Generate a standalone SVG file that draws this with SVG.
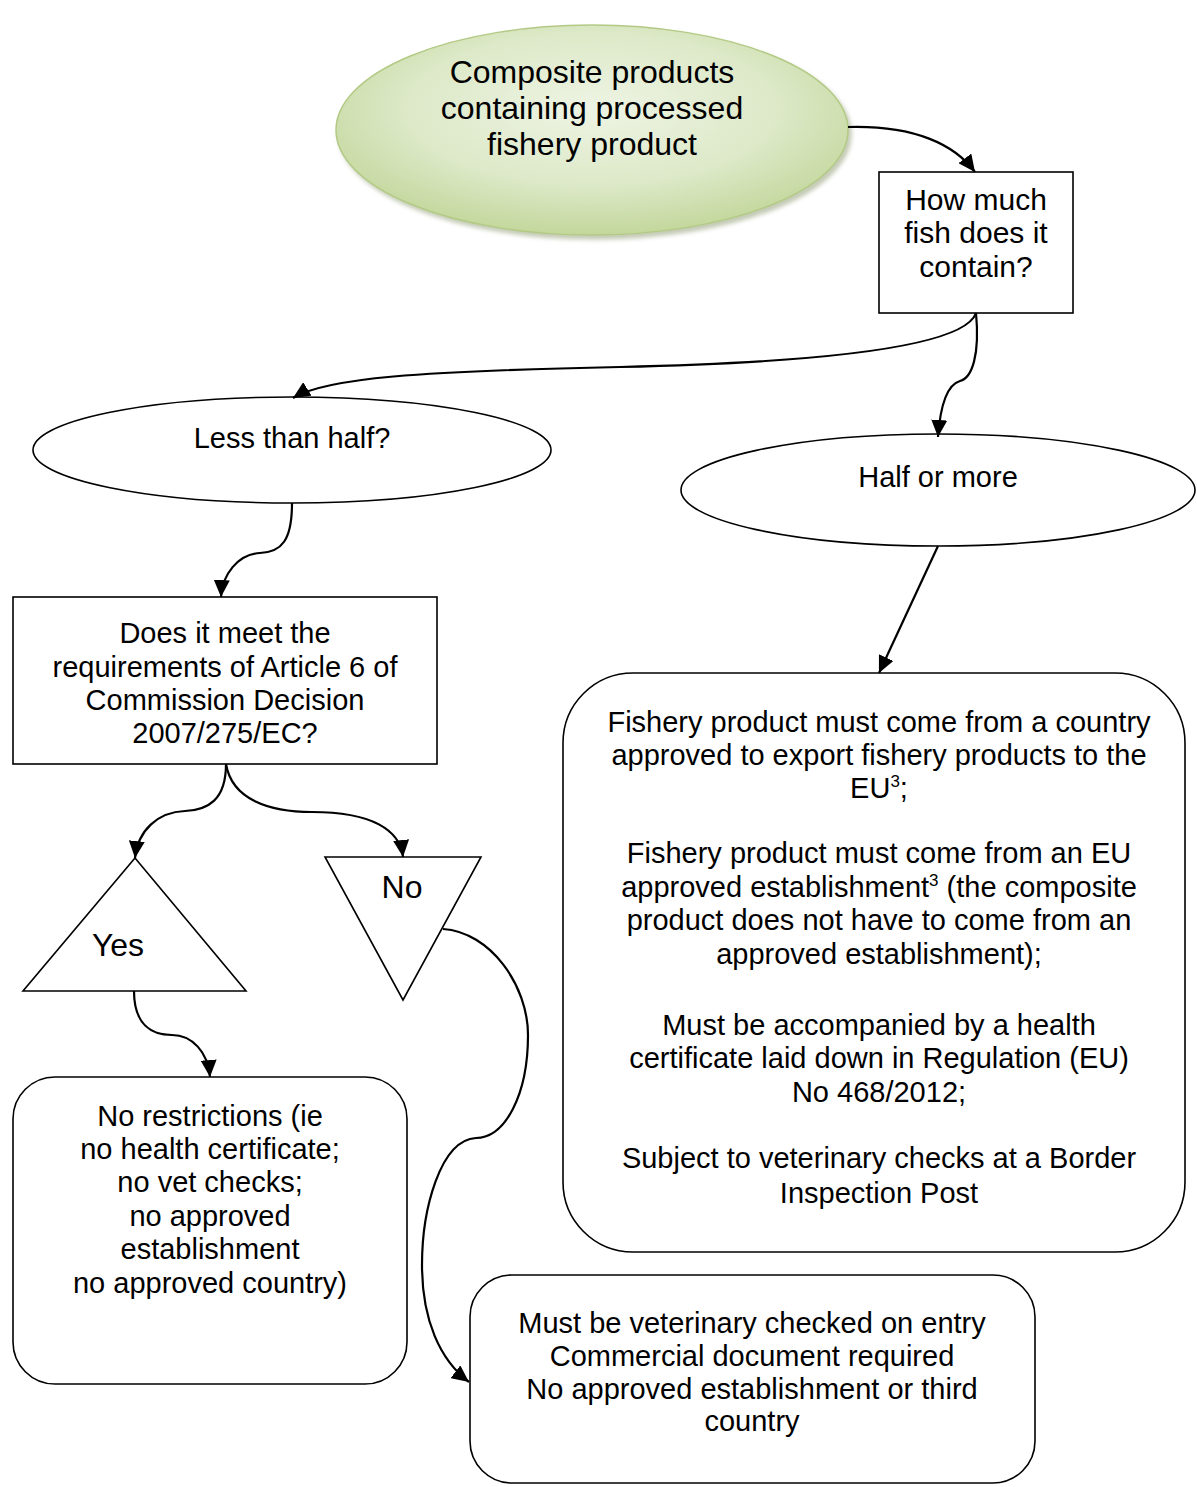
<svg xmlns="http://www.w3.org/2000/svg" width="1197" height="1487" viewBox="0 0 1197 1487">
<style>
text{font-family:"Liberation Sans",Arial,sans-serif;font-size:29px;fill:#000;text-anchor:middle}
.shape{fill:#fff;stroke:#000;stroke-width:1.6}
.conn path{fill:none;stroke:#000;stroke-width:2.2}
.sup{font-size:17px}
.big{font-size:32px}
.mid{font-size:30px}
.tri{font-size:32px}
</style>
<defs>
<radialGradient id="green" cx="50%" cy="40%" r="60%">
<stop offset="0" stop-color="#eef4e4"/>
<stop offset="0.6" stop-color="#dde9c8"/>
<stop offset="1" stop-color="#c3d79c"/>
</radialGradient>
<filter id="shadow" x="-10%" y="-10%" width="125%" height="130%">
<feDropShadow dx="3" dy="4" stdDeviation="2" flood-color="#7a8a5a" flood-opacity="0.45"/>
</filter>
<marker id="arr" markerUnits="userSpaceOnUse" markerWidth="18" markerHeight="16" refX="17" refY="8" orient="auto">
<path d="M0,0 L17,8 L0,16 z" fill="#000"/>
</marker>
</defs>
<rect width="1197" height="1487" fill="#fff"/>

<g id="start">
<ellipse cx="592" cy="130" rx="256" ry="105" fill="url(#green)" stroke="#b3ca85" stroke-width="1.5" filter="url(#shadow)"/>
<text class="big" x="592" y="83">Composite products</text>
<text class="big" x="592" y="119">containing processed</text>
<text class="big" x="592" y="155">fishery product</text>
</g>

<g id="how-much">
<rect class="shape" x="879" y="172" width="194" height="141"/>
<text class="mid" x="976" y="210">How much</text>
<text class="mid" x="976" y="243">fish does it</text>
<text class="mid" x="976" y="277">contain?</text>
</g>

<g id="less-than-half">
<ellipse class="shape" cx="292" cy="450" rx="259" ry="53"/>
<text x="292" y="448">Less than half?</text>
</g>

<g id="half-or-more">
<ellipse class="shape" cx="938" cy="490" rx="257" ry="56"/>
<text x="938" y="487">Half or more</text>
</g>

<g id="article6">
<rect class="shape" x="13" y="597" width="424" height="167"/>
<text x="225" y="643">Does it meet the</text>
<text x="225" y="677">requirements of Article 6 of</text>
<text x="225" y="710">Commission Decision</text>
<text x="225" y="743">2007/275/EC?</text>
</g>

<g id="yes">
<polygon class="shape" points="135,858 246,991 23,991"/>
<text class="tri" x="118" y="956">Yes</text>
</g>

<g id="no">
<polygon class="shape" points="325,857 481,857 403,1000"/>
<text class="tri" x="402" y="898">No</text>
</g>

<g id="requirements">
<rect class="shape" x="563" y="673" width="622" height="579" rx="70" ry="70"/>
<text x="879" y="732">Fishery product must come from a country</text>
<text x="879" y="765">approved to export fishery products to the</text>
<text x="879" y="798">EU<tspan class="sup" dy="-11">3</tspan><tspan dy="11">;</tspan></text>
<text x="879" y="863">Fishery product must come from an EU</text>
<text x="879" y="897">approved establishment<tspan class="sup" dy="-11">3</tspan><tspan dy="11"> (the composite</tspan></text>
<text x="879" y="930">product does not have to come from an</text>
<text x="879" y="964">approved establishment);</text>
<text x="879" y="1035">Must be accompanied by a health</text>
<text x="879" y="1068">certificate laid down in Regulation (EU)</text>
<text x="879" y="1102">No 468/2012;</text>
<text x="879" y="1168">Subject to veterinary checks at a Border</text>
<text x="879" y="1203">Inspection Post</text>
</g>

<g id="no-restrictions">
<rect class="shape" x="13" y="1077" width="394" height="307" rx="42" ry="42"/>
<text x="210" y="1126">No restrictions (ie</text>
<text x="210" y="1159">no health certificate;</text>
<text x="210" y="1192">no vet checks;</text>
<text x="210" y="1226">no approved</text>
<text x="210" y="1259">establishment</text>
<text x="210" y="1293">no approved country)</text>
</g>

<g id="vet-checked">
<rect class="shape" x="470" y="1275" width="565" height="208" rx="42" ry="42"/>
<text x="752" y="1333">Must be veterinary checked on entry</text>
<text x="752" y="1366">Commercial document required</text>
<text x="752" y="1399">No approved establishment or third</text>
<text x="752" y="1431">country</text>
</g>

<g id="connectors" class="conn">
<path d="M848,127 C915,125 955,145 975,172" marker-end="url(#arr)"/>
<path d="M976,313 C965,345 840,362 620,367 C420,371 325,378 293,398" marker-end="url(#arr)"/>
<path d="M976,313 C980,355 972,378 960,381 C946,385 940,410 938,437" marker-end="url(#arr)"/>
<path d="M292,503 C292,540 282,552 260,553 C238,554 222,575 221,597" marker-end="url(#arr)"/>
<path d="M938,546 L879,673" marker-end="url(#arr)"/>
<path d="M226,764 C226,800 208,810 185,811 C158,812 138,830 135,858" marker-end="url(#arr)"/>
<path d="M226,764 C232,800 270,812 312,812 C372,812 400,830 403,857" marker-end="url(#arr)"/>
<path d="M134,991 C134,1025 152,1035 172,1035 C192,1035 208,1052 210,1077" marker-end="url(#arr)"/>
<path d="M443,929 C490,932 528,985 528,1035 C528,1095 505,1138 476,1138 C440,1140 422,1210 422,1265 C422,1320 440,1360 469,1382" marker-end="url(#arr)"/>
</g>
</svg>
